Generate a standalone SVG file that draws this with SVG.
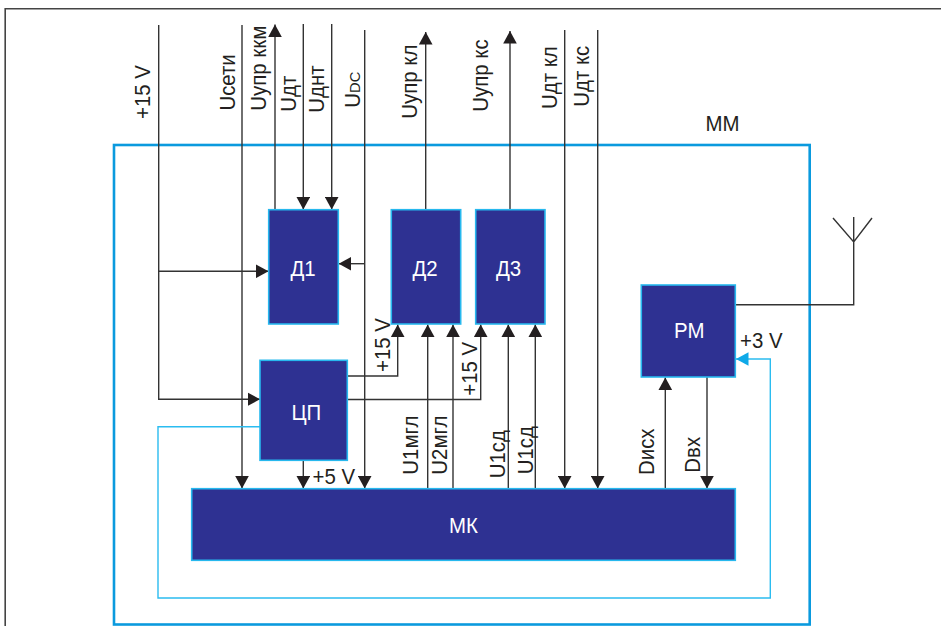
<svg xmlns="http://www.w3.org/2000/svg" width="941" height="626" viewBox="0 0 941 626">
<style>
text{font-family:"Liberation Sans",Arial,sans-serif;font-size:21.5px;fill:#231f20}
.w{fill:#fff}
.n{fill:#2e3192;stroke:#27b8ee;stroke-width:1.6}
.c{fill:none;stroke:#333;stroke-width:1.4}
.b{fill:none;stroke:#2bbcf0;stroke-width:1.4}
.s{font-size:15.5px}
</style>
<defs>
<marker id="a" markerUnits="userSpaceOnUse" markerWidth="14" markerHeight="14" refX="12.5" refY="7" orient="auto"><path d="M0 .2L12.5 7L0 13.8Z" fill="#231f20"/></marker>
<marker id="ab" markerUnits="userSpaceOnUse" markerWidth="14" markerHeight="14" refX="12.5" refY="7" orient="auto"><path d="M0 .2L12.5 7L0 13.8Z" fill="#0fa9e8"/></marker>
</defs>
<rect width="941" height="626" fill="#fff"/>
<path d="M5.2 626V8.7H941" fill="none" stroke="#444" stroke-width="1.6"/>
<g id="mm"><rect x="114" y="145" width="695.7" height="479.5" fill="none" stroke="#0a9ade" stroke-width="2.6"/><text transform="translate(705.5,131) scale(.95,1)">ММ</text></g>
<g id="connectors">
<path class="c" d="M158.7 25V399.3H260" marker-end="url(#a)"/>
<path class="c" d="M158.7 271.3H268.5" marker-end="url(#a)"/>
<path class="c" d="M242 25V488.5" marker-end="url(#a)"/>
<path class="c" d="M275 210V24.5" marker-end="url(#a)"/>
<path class="c" d="M303.3 24V209.5" marker-end="url(#a)"/>
<path class="c" d="M331.7 24V209.5" marker-end="url(#a)"/>
<path class="c" d="M364.7 30V488.5" marker-end="url(#a)"/>
<path class="c" d="M364.7 263.7H338.7" marker-end="url(#a)"/>
<path class="c" d="M425.7 210V32" marker-end="url(#a)"/>
<path class="c" d="M510 210V31" marker-end="url(#a)"/>
<path class="c" d="M564.7 30V488.5" marker-end="url(#a)"/>
<path class="c" d="M597.7 30V488.5" marker-end="url(#a)"/>
<path class="c" d="M347 376H397.7V324.5" marker-end="url(#a)"/>
<path class="c" d="M347 399.5H480.7V324.5" marker-end="url(#a)"/>
<path class="c" d="M427.7 489V324.5" marker-end="url(#a)"/>
<path class="c" d="M453 489V324.5" marker-end="url(#a)"/>
<path class="c" d="M508.3 489V324.5" marker-end="url(#a)"/>
<path class="c" d="M535.3 489V324.5" marker-end="url(#a)"/>
<path class="c" d="M303.3 460V488.5" marker-end="url(#a)"/>
<path class="c" d="M665.3 489V377.5" marker-end="url(#a)"/>
<path class="c" d="M707 377V488.5" marker-end="url(#a)"/>
<path class="b" d="M260 426.7H158V598H770.3V359H736" marker-end="url(#ab)"/>
<path class="c" d="M735 304.7H853.7V217M833 218L853.7 242L872 218"/>
</g>
<g id="d1"><rect class="n" x="268.7" y="209.7" width="69.6" height="114.3"/><text class="w" transform="translate(290.5,275.5) scale(.95,1)">Д1</text></g>
<g id="d2"><rect class="n" x="391.3" y="209.7" width="69.4" height="114.3"/><text class="w" transform="translate(412.5,275.5) scale(.95,1)">Д2</text></g>
<g id="d3"><rect class="n" x="475.7" y="209.7" width="69.3" height="114.3"/><text class="w" transform="translate(496,275.5) scale(.95,1)">Д3</text></g>
<g id="cp"><rect class="n" x="260" y="360.3" width="87.3" height="100"/><text class="w" transform="translate(291.5,420) scale(.95,1)">ЦП</text></g>
<g id="mk"><rect class="n" x="191.7" y="488.7" width="543.6" height="71.6"/><text class="w" transform="translate(449,533) scale(.95,1)">МК</text></g>
<g id="rm"><rect class="n" x="641.3" y="285" width="94" height="92"/><text class="w" transform="translate(674,338.3) scale(.95,1)">РМ</text></g>
<g id="labels">
<text transform="translate(150,119) rotate(-90) scale(.95,1)">+15 V</text>
<text transform="translate(235,110.6) rotate(-90) scale(.95,1)">Uсети</text>
<text transform="translate(265.7,110.7) rotate(-90) scale(.95,1)">Uупр ккм</text>
<text transform="translate(295.7,111.7) rotate(-90) scale(.95,1)">Uдт</text>
<text transform="translate(324,112.7) rotate(-90) scale(.95,1)">Uднт</text>
<text transform="translate(360,107.7) rotate(-90) scale(.95,1)">U<tspan class="s">DC</tspan></text>
<text transform="translate(417.3,118.7) rotate(-90) scale(.95,1)">Uупр кл</text>
<text transform="translate(488.3,111.7) rotate(-90) scale(.95,1)">Uупр кс</text>
<text transform="translate(556.7,109) rotate(-90) scale(.95,1)">Uдт кл</text>
<text transform="translate(589.3,106.7) rotate(-90) scale(.95,1)">Uдт кс</text>
<text transform="translate(389.5,372) rotate(-90) scale(.95,1)">+15 V</text>
<text transform="translate(477,395.7) rotate(-90) scale(.95,1)">+15 V</text>
<text transform="translate(417.7,474.7) rotate(-90) scale(.95,1)">U1мгл</text>
<text transform="translate(447,474.7) rotate(-90) scale(.95,1)">U2мгл</text>
<text transform="translate(505,478.3) rotate(-90) scale(.95,1)">U1сд</text>
<text transform="translate(532.7,474.3) rotate(-90) scale(.95,1)">U1сд</text>
<text transform="translate(654.3,475) rotate(-90) scale(.95,1)">Dисх</text>
<text transform="translate(699.7,472.7) rotate(-90) scale(.95,1)">Dвх</text>
<text transform="translate(312.5,484) scale(.95,1)">+5 V</text>
<text transform="translate(740,347.7) scale(.95,1)">+3 V</text>
</g>
</svg>
